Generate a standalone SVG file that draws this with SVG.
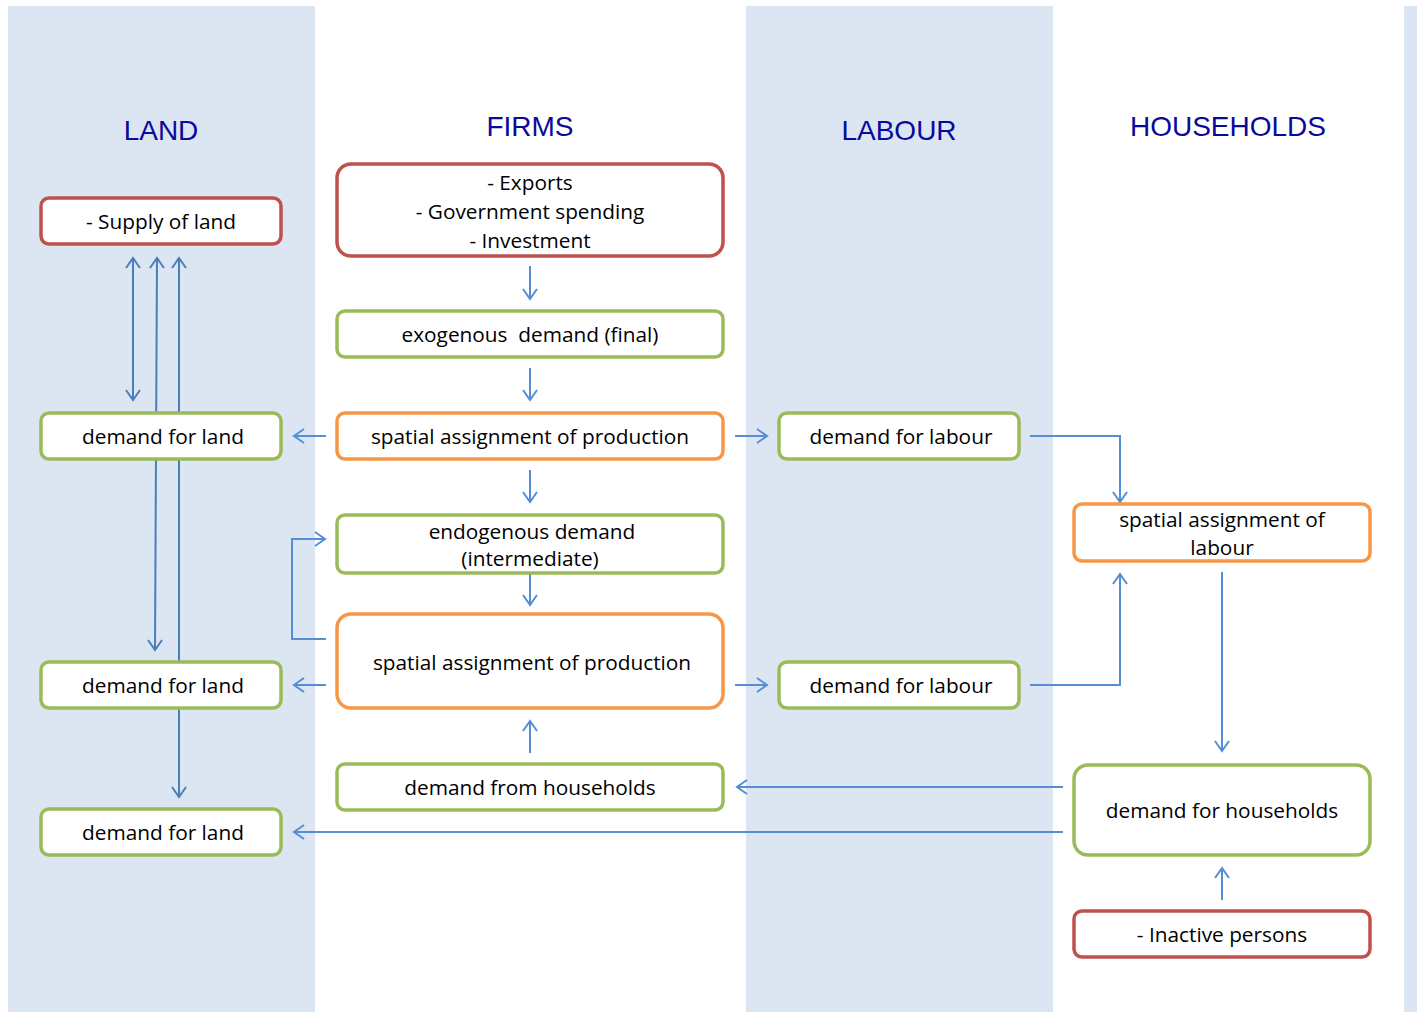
<svg xmlns="http://www.w3.org/2000/svg" width="1417" height="1012" viewBox="0 0 1417 1012">
<style>
.band{fill:#dce6f2}
.hdr{font-family:"Liberation Sans",Arial,sans-serif;font-size:28px;fill:#0a0a9a;text-anchor:middle}
.box{fill:#fff;stroke-width:3.5}
.red{stroke:#c0504d}
.grn{stroke:#9bbb59}
.org{stroke:#f79646}
.t{font-family:"Open Sans","Noto Sans",sans-serif;font-size:20.8px;fill:#000;text-anchor:middle;white-space:pre}
.c{fill:none;stroke:#558ed5;stroke-width:2}
.cd{fill:none;stroke:#4a7ebb;stroke-width:2}
</style>
<defs>
<marker id="ah" markerUnits="userSpaceOnUse" markerWidth="16" markerHeight="18" refX="11" refY="8" orient="auto-start-reverse" viewBox="0 0 16 16">
<path d="M1,1 L11,8 L1,15" fill="none" stroke="#558ed5" stroke-width="2"/>
</marker>
<marker id="ahd" markerUnits="userSpaceOnUse" markerWidth="16" markerHeight="18" refX="11" refY="8" orient="auto-start-reverse" viewBox="0 0 16 16">
<path d="M1,1 L11,8 L1,15" fill="none" stroke="#4a7ebb" stroke-width="2"/>
</marker>
</defs>
<rect width="1417" height="1012" fill="#fff"/>
<rect class="band" x="8" y="6" width="307" height="1006"/>
<rect class="band" x="746" y="6" width="307" height="1006"/>
<rect class="band" x="1404" y="6" width="13" height="1006"/>
<g id="headers">
<text class="hdr" x="161" y="140">LAND</text>
<text class="hdr" x="530" y="136">FIRMS</text>
<text class="hdr" x="899" y="140">LABOUR</text>
<text class="hdr" x="1228" y="136">HOUSEHOLDS</text>
</g>
<g id="connectors">
<line class="cd" x1="133" y1="258" x2="133" y2="400" marker-start="url(#ahd)" marker-end="url(#ahd)"/>
<line class="cd" x1="157" y1="258" x2="155" y2="650" marker-start="url(#ahd)" marker-end="url(#ahd)"/>
<line class="cd" x1="179" y1="258" x2="179" y2="662" marker-start="url(#ahd)"/>
<line class="cd" x1="179" y1="708" x2="179" y2="797" marker-end="url(#ahd)"/>
<line class="c" x1="530" y1="266" x2="530" y2="299" marker-end="url(#ah)"/>
<line class="c" x1="530" y1="368" x2="530" y2="400" marker-end="url(#ah)"/>
<line class="c" x1="530" y1="470" x2="530" y2="502" marker-end="url(#ah)"/>
<line class="c" x1="530" y1="574" x2="530" y2="605" marker-end="url(#ah)"/>
<line class="c" x1="530" y1="753" x2="530" y2="721" marker-end="url(#ah)"/>
<line class="c" x1="326" y1="436" x2="294" y2="436" marker-end="url(#ah)"/>
<line class="c" x1="735" y1="436" x2="767" y2="436" marker-end="url(#ah)"/>
<line class="c" x1="326" y1="685" x2="294" y2="685" marker-end="url(#ah)"/>
<line class="c" x1="735" y1="685" x2="767" y2="685" marker-end="url(#ah)"/>
<polyline class="c" points="326,639 292,639 292,539 325,539" marker-end="url(#ah)"/>
<polyline class="c" points="1030,436 1120,436 1120,502" marker-end="url(#ah)"/>
<polyline class="c" points="1030,685 1120,685 1120,574" marker-end="url(#ah)"/>
<line class="c" x1="1222" y1="572" x2="1222" y2="751" marker-end="url(#ah)"/>
<line class="c" x1="1063" y1="787" x2="737" y2="787" marker-end="url(#ah)"/>
<line class="c" x1="1063" y1="832" x2="294" y2="832" marker-end="url(#ah)"/>
<line class="c" x1="1222" y1="900" x2="1222" y2="868" marker-end="url(#ah)"/>
</g>
<g id="supply-land"><rect class="box red" x="41" y="198" width="240" height="46" rx="8"/><text class="t" x="161" y="229">- Supply of land</text></g>
<g id="exogenous-inputs"><rect class="box red" x="337" y="164" width="386" height="92" rx="14"/>
<text class="t" x="530" y="190">- Exports</text><text class="t" x="530" y="219">- Government spending</text><text class="t" x="530" y="248">- Investment</text></g>
<g id="exogenous-demand"><rect class="box grn" x="337" y="311" width="386" height="46" rx="8"/><text class="t" x="530" y="342" xml:space="preserve">exogenous  demand (final)</text></g>
<g id="spatial-production-1"><rect class="box org" x="337" y="413" width="386" height="46" rx="8"/><text class="t" x="530" y="444">spatial assignment of production</text></g>
<g id="endogenous-demand"><rect class="box grn" x="337" y="515" width="386" height="58" rx="8"/><text class="t" x="532" y="539">endogenous demand</text><text class="t" x="530" y="566">(intermediate)</text></g>
<g id="spatial-production-2"><rect class="box org" x="337" y="614" width="386" height="94" rx="14"/><text class="t" x="532" y="670">spatial assignment of production</text></g>
<g id="demand-from-households"><rect class="box grn" x="337" y="764" width="386" height="46" rx="8"/><text class="t" x="530" y="795">demand from households</text></g>
<g id="demand-land-1"><rect class="box grn" x="41" y="413" width="240" height="46" rx="8"/><text class="t" x="163" y="444">demand for land</text></g>
<g id="demand-land-2"><rect class="box grn" x="41" y="662" width="240" height="46" rx="8"/><text class="t" x="163" y="693">demand for land</text></g>
<g id="demand-land-3"><rect class="box grn" x="41" y="809" width="240" height="46" rx="8"/><text class="t" x="163" y="840">demand for land</text></g>
<g id="demand-labour-1"><rect class="box grn" x="779" y="413" width="240" height="46" rx="8"/><text class="t" x="901" y="444">demand for labour</text></g>
<g id="demand-labour-2"><rect class="box grn" x="779" y="662" width="240" height="46" rx="8"/><text class="t" x="901" y="693">demand for labour</text></g>
<g id="spatial-labour"><rect class="box org" x="1074" y="504" width="296" height="57" rx="8"/><text class="t" x="1222" y="527">spatial assignment of</text><text class="t" x="1222" y="555">labour</text></g>
<g id="demand-households"><rect class="box grn" x="1074" y="765" width="296" height="90" rx="14"/><text class="t" x="1222" y="818">demand for households</text></g>
<g id="inactive-persons"><rect class="box red" x="1074" y="911" width="296" height="46" rx="8"/><text class="t" x="1222" y="942">- Inactive persons</text></g>
</svg>
